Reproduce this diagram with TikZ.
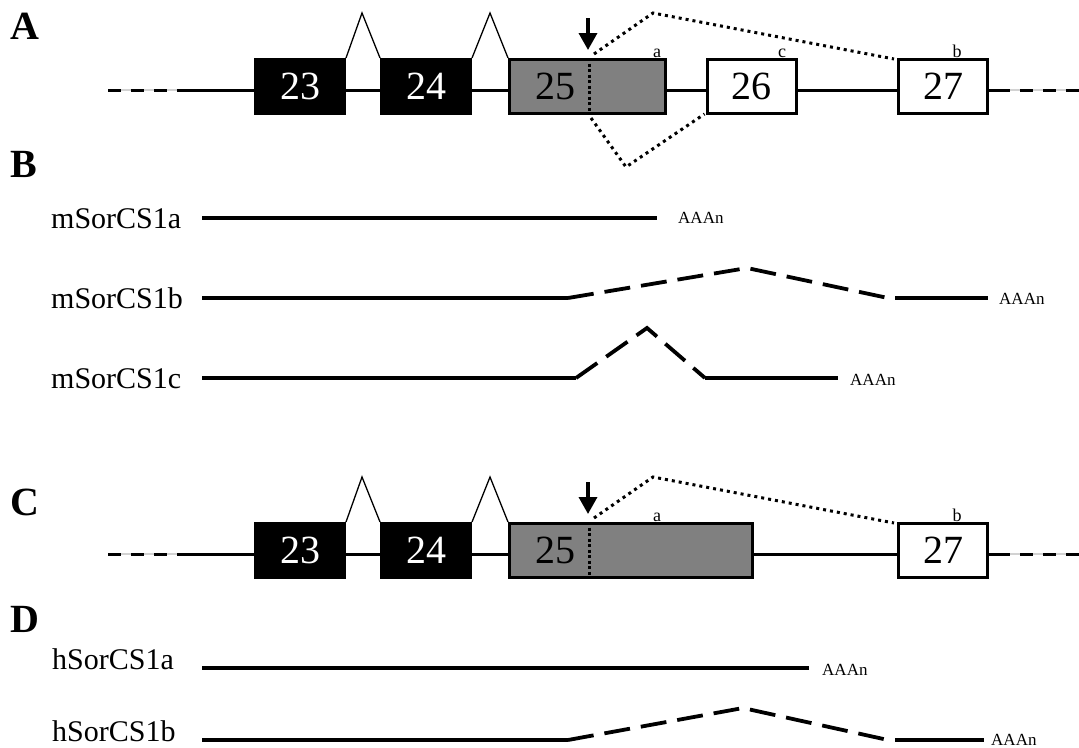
\documentclass[tikz,border=0pt]{standalone}
\usepackage{fontspec}
\setmainfont{Liberation Serif}
\usetikzlibrary{arrows.meta}

\begin{document}
\begin{tikzpicture}[x=1pt,y=-1pt,
  panel/.style={font=\fontsize{40}{40}\selectfont\bfseries, anchor=base west, inner sep=0pt},
  txname/.style={font=\fontsize{30}{30}\selectfont, anchor=base west, inner sep=0pt},
  polya/.style={font=\fontsize{17}{17}\selectfont, anchor=base west, inner sep=0pt},
  splicesite/.style={font=\fontsize{18}{18}\selectfont, anchor=base, inner sep=0pt},
  exonnum/.style={font=\fontsize{40}{40}\selectfont, inner sep=0pt},
  blackexon/.style={draw=black, line width=1pt, fill=black, text=white, font=\fontsize{40}{40}\selectfont,
    minimum width=91pt, minimum height=56pt, inner sep=0pt},
  greyexon/.style={draw=black, line width=3pt, fill=gray, minimum height=54pt, inner sep=0pt},
  whiteexon/.style={draw=black, line width=3pt, fill=white, font=\fontsize{40}{40}\selectfont,
    minimum width=89pt, minimum height=54pt, inner sep=0pt},
  gene/.style={line width=3pt},
  genedash/.style={line width=3pt, dash pattern=on 13pt off 10pt},
  faint/.style={line width=1.5pt, gray!35},
  intron/.style={line width=1.3pt, line join=miter},
  skipline/.style={line width=3pt, dash pattern=on 3pt off 4pt},
  cutline/.style={line width=3pt, dash pattern=on 3pt off 2.5pt},
  donorarrow/.style={line width=3.5pt, -{Triangle[width=18pt,length=17pt]}},
  tx/.style={line width=3.8pt},
  txdash/.style={line width=3.8pt, dash pattern=on 26pt off 11pt}
]
\useasboundingbox (0,0) rectangle (1079,747);

% ---------- panel A: mouse exons 23-27 ----------
\node[panel] (pA) at (10,39) {A};
\coordinate (aL0) at (108,90);
\coordinate (aL1) at (179,90);
\coordinate (aR1) at (1010,90);
\coordinate (aR0) at (1079,90);
\node[blackexon] (a23) at (300,86.5) {23};
\node[blackexon] (a24) at (426,86.5) {24};
\node[greyexon, minimum width=156pt] (a25) at (587.5,86.5) {};
\node[exonnum] (a25n) at (555,86.5) {25};
\node[whiteexon] (a26) at (751.5,86.5) {26};
\node[whiteexon] (a27) at (943,86.5) {27};

\draw[faint] (aL0) -- (aL1);
\draw[genedash] (aL0) -- (aL1);
\draw[gene] (aL1) -- (a23.west |- aL1);
\draw[gene] (a23.east |- aL1) -- (a24.west |- aL1);
\draw[gene] (a24.east |- aL1) -- (a25.west |- aL1);
\draw[gene] (a25.east |- aL1) -- (a26.west |- aL1);
\draw[gene] (a26.east |- aL1) -- (a27.west |- aL1);
\draw[gene] (a27.east |- aL1) -- (aR1);
\draw[faint] (aR1) -- (aR0);
\draw[genedash, dash phase=13pt] (aR1) -- (aR0);

% splicing carets
\coordinate (aS1) at (362,13);
\coordinate (aS2) at (490,13);
\draw[intron] (a23.north east) -- (aS1) -- (a24.north west);
\draw[intron] (a24.north east) -- (aS2) -- (a25.north west);

% alternative 5' donor inside exon 25
\coordinate (aCut) at (589,0);
\draw[cutline] (aCut |- a25.north) -- (aCut |- a25.south);
\coordinate (aArrTop) at (588,18);
\coordinate (aArrTip) at (588,50);
\draw[donorarrow] (aArrTop) -- (aArrTip);

% skipping paths
\coordinate (aUp0) at (594,54);
\coordinate (aUp1) at (653,13);
\coordinate (aLo0) at (591,118);
\coordinate (aLo1) at (626,167);
\draw[skipline] (aUp0) -- (aUp1) -- ([xshift=-3pt,yshift=-1pt]a27.north west);
\draw[skipline] (aLo0) -- (aLo1) -- ([xshift=-1pt,yshift=1pt]a26.south west);

\node[splicesite] (aSa) at (657,57) {a};
\node[splicesite] (aSc) at (782,57) {c};
\node[splicesite] (aSb) at (957,57) {b};

% ---------- panel B: mouse transcripts ----------
\node[panel] (pB) at (10,177) {B};

\node[txname] (m1a) at (51,228) {mSorCS1a};
\coordinate (m1aS) at (202,218);
\coordinate (m1aE) at (657,218);
\draw[tx] (m1aS) -- (m1aE);
\node[polya] (m1aP) at (678,223) {AAAn};

\node[txname] (m1b) at (51,308) {mSorCS1b};
\coordinate (m1bS) at (202,298);
\coordinate (m1bK) at (568,298);
\coordinate (m1bT) at (747,268);
\coordinate (m1bJ) at (888,298);
\coordinate (m1bR) at (895,298);
\coordinate (m1bE) at (988,298);
\draw[tx] (m1bS) -- (m1bK);
\draw[txdash] (m1bK) -- (m1bT) -- (m1bJ);
\draw[tx] (m1bR) -- (m1bE);
\node[polya] (m1bP) at (999,304) {AAAn};

\node[txname] (m1c) at (51,388) {mSorCS1c};
\coordinate (m1cS) at (202,378);
\coordinate (m1cK) at (576,378);
\coordinate (m1cT) at (647,328);
\coordinate (m1cJ) at (705,378);
\coordinate (m1cE) at (838,378);
\draw[tx] (m1cS) -- (m1cK);
\draw[txdash, line join=miter] (m1cK) -- (m1cT) -- (m1cJ);
\draw[tx] (m1cJ) -- (m1cE);
\node[polya] (m1cP) at (850,385) {AAAn};

% ---------- panel C: human exons ----------
\node[panel] (pC) at (10,515) {C};
\coordinate (cL0) at (108,554);
\coordinate (cL1) at (179,554);
\coordinate (cR1) at (1010,554);
\coordinate (cR0) at (1079,554);
\node[blackexon] (c23) at (300,550.5) {23};
\node[blackexon] (c24) at (426,550.5) {24};
\node[greyexon, minimum width=243pt] (c25) at (631,550.5) {};
\node[exonnum] (c25n) at (555,550.5) {25};
\node[whiteexon] (c27) at (943,550.5) {27};

\draw[faint] (cL0) -- (cL1);
\draw[genedash] (cL0) -- (cL1);
\draw[gene] (cL1) -- (c23.west |- cL1);
\draw[gene] (c23.east |- cL1) -- (c24.west |- cL1);
\draw[gene] (c24.east |- cL1) -- (c25.west |- cL1);
\draw[gene] (c25.east |- cL1) -- (c27.west |- cL1);
\draw[gene] (c27.east |- cL1) -- (cR1);
\draw[faint] (cR1) -- (cR0);
\draw[genedash, dash phase=13pt] (cR1) -- (cR0);

\coordinate (cS1) at (362,477);
\coordinate (cS2) at (490,477);
\draw[intron] (c23.north east) -- (cS1) -- (c24.north west);
\draw[intron] (c24.north east) -- (cS2) -- (c25.north west);

\coordinate (cCut) at (589,0);
\draw[cutline] (cCut |- c25.north) -- (cCut |- c25.south);
\coordinate (cArrTop) at (588,482);
\coordinate (cArrTip) at (588,514);
\draw[donorarrow] (cArrTop) -- (cArrTip);

\coordinate (cUp0) at (594,518);
\coordinate (cUp1) at (653,477);
\draw[skipline] (cUp0) -- (cUp1) -- ([xshift=-3pt,yshift=-1pt]c27.north west);

\node[splicesite] (cSa) at (657,521) {a};
\node[splicesite] (cSb) at (957,521) {b};

% ---------- panel D: human transcripts ----------
\node[panel] (pD) at (10,632) {D};

\node[txname] (h1a) at (52,669) {hSorCS1a};
\coordinate (h1aS) at (202,668);
\coordinate (h1aE) at (809,668);
\draw[tx] (h1aS) -- (h1aE);
\node[polya] (h1aP) at (822,675) {AAAn};

\node[txname] (h1b) at (52,741) {hSorCS1b};
\coordinate (h1bS) at (202,740);
\coordinate (h1bK) at (568,740);
\coordinate (h1bT) at (743,708);
\coordinate (h1bJ) at (888,740);
\coordinate (h1bR) at (895,740);
\coordinate (h1bE) at (984,740);
\draw[tx] (h1bS) -- (h1bK);
\draw[txdash] (h1bK) -- (h1bT) -- (h1bJ);
\draw[tx] (h1bR) -- (h1bE);
\node[polya] (h1bP) at (991,745) {AAAn};
\end{tikzpicture}
\end{document}
